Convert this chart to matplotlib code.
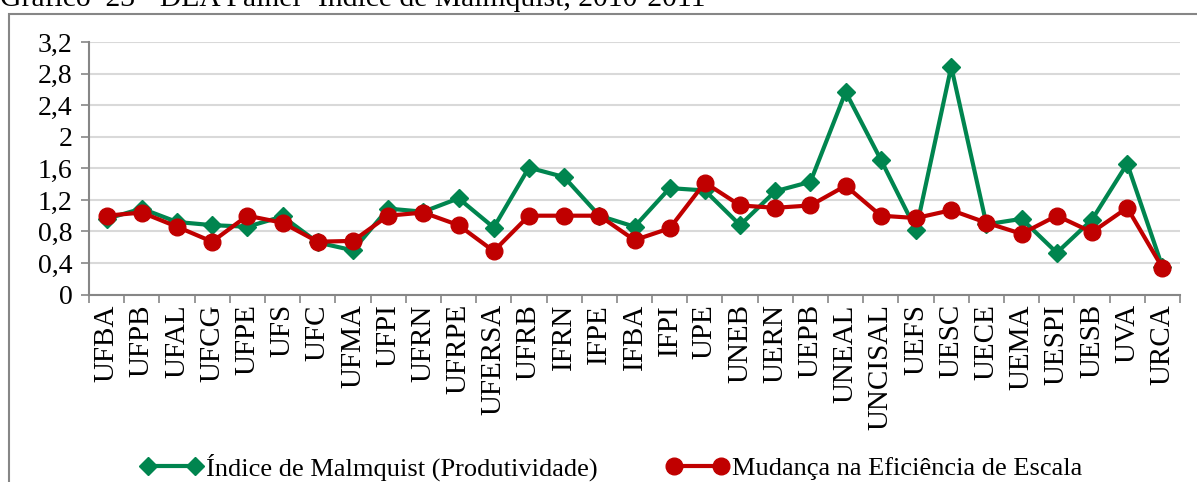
import numpy as np
import matplotlib
matplotlib.use("Agg")
import matplotlib.pyplot as plt
from matplotlib.patches import Rectangle

# categorias e valores
unidades = ["UFBA", "UFPB", "UFAL", "UFCG", "UFPE", "UFS", "UFC", "UFMA", "UFPI",
            "UFRN", "UFRPE", "UFERSA", "UFRB", "IFRN", "IFPE", "IFBA", "IFPI", "UPE",
            "UNEB", "UERN", "UEPB", "UNEAL", "UNCISAL", "UEFS", "UESC", "UECE",
            "UEMA", "UESPI", "UESB", "UVA", "URCA"]
malmquist = [0.96, 1.09, 0.92, 0.88, 0.86, 0.99, 0.66, 0.56, 1.09, 1.05, 1.22,
             0.85, 1.61, 1.49, 1.0, 0.86, 1.35, 1.32, 0.88, 1.31, 1.43, 2.57,
             1.71, 0.82, 2.89, 0.89, 0.96, 0.53, 0.95, 1.66, 0.35]
escala = [1.0, 1.04, 0.86, 0.67, 1.0, 0.91, 0.67, 0.68, 1.0, 1.04, 0.88,
          0.55, 1.0, 1.0, 1.0, 0.69, 0.84, 1.42, 1.13, 1.1, 1.13, 1.38,
          1.0, 0.97, 1.07, 0.91, 0.77, 1.0, 0.79, 1.1, 0.34]
yticks = [0, 0.4, 0.8, 1.2, 1.6, 2.0, 2.4, 2.8, 3.2]
ytick_labels = ["0", "0,4", "0,8", "1,2", "1,6", "2", "2,4", "2,8", "3,2"]

plt.rcParams['font.family'] = ['Liberation Serif', 'DejaVu Serif']

W, H = 1197, 482
fig = plt.figure(figsize=(W / 100, H / 100), dpi=100)
ax = fig.add_axes([89 / W, 1 - 294.5 / H, (1180 - 89) / W, (294.5 - 42.3) / H])

x = np.arange(len(unidades))
verde = "#00854F"
vermelho = "#C00000"
ax.plot(x, malmquist, color=verde, lw=3, marker="D", ms=9, zorder=3,
        label="Índice de Malmquist (Produtividade)")
ax.plot(x, escala, color=vermelho, lw=3, marker="o", ms=12, zorder=4,
        label="Mudança na Eficiência de Escala")

ax.set_xlim(-0.5, len(unidades) - 0.5)
ax.set_ylim(0, 3.2)
ax.set_yticks(yticks)
ax.set_yticklabels(ytick_labels, fontsize=20)
ax.set_xticks(x)
ax.set_xticklabels(unidades, rotation=90, fontsize=21)
ax.set_xticks(np.arange(-0.5, len(unidades), 1), minor=True)
ax.tick_params(axis="x", which="major", length=0, pad=7)
ax.tick_params(axis="x", which="minor", length=6, color="#868686", width=1.2)
ax.tick_params(axis="y", length=6, color="#868686", width=1.2, pad=6)

ax.grid(axis="y", color="#d9d9d9", lw=1.5)
ax.set_axisbelow(True)
for s in ["top", "right"]:
    ax.spines[s].set_visible(False)
for s in ["left", "bottom"]:
    ax.spines[s].set_color("#868686")
    ax.spines[s].set_linewidth(1.5)

# moldura do grafico
fig.patches.append(Rectangle((9 / W, -0.1), 1.2, 1.1 - 14 / H, transform=fig.transFigure,
                             fill=False, edgecolor="#868686", lw=1.5))

fig.text(0, 1 - 6 / H, "Gráfico  23 - DEA Painel- Índice de Malmquist, 2010-2011",
         fontsize=21.3, va="baseline", ha="left")

fig.legend(loc="center", bbox_to_anchor=(611 / W, 1 - 467 / H), ncol=2, frameon=False,
           fontsize=19, numpoints=2, handlelength=2.4, handletextpad=0.1,
           columnspacing=2.6)

fig.savefig("out.png", dpi=100)
